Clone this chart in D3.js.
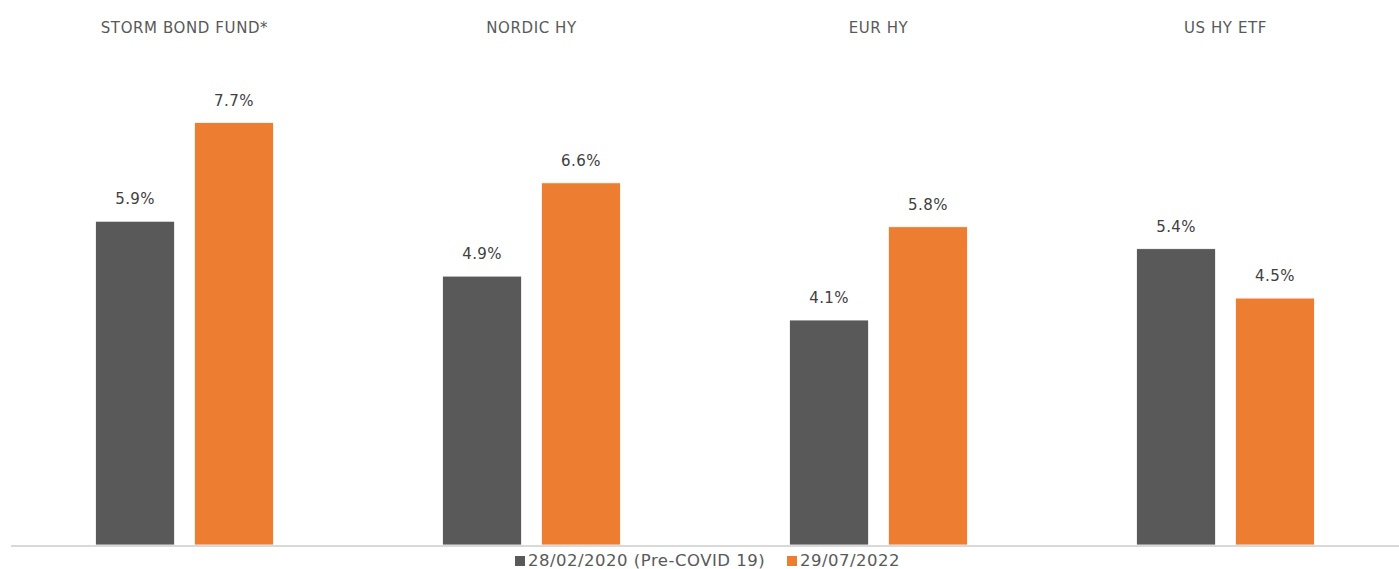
<!DOCTYPE html>
<html>
<head>
<meta charset="utf-8">
<script src="https://cdn.jsdelivr.net/npm/d3@7"></script>
<style>
  body { margin: 0; background: #fff; }
  svg { display: block; font-family: "DejaVu Sans", Verdana, sans-serif; }
</style>
</head>
<body>
<div id="chart"></div>
<script>
// categories and series
const categories = ["STORM BOND FUND*", "NORDIC HY", "EUR HY", "US HY ETF"];
const seriesNames = ["28/02/2020 (Pre-COVID 19)", "29/07/2022"];
const preCovid = [5.9, 4.9, 4.1, 5.4];
const latest = [7.7, 6.6, 5.8, 4.5];
const colors = ["#595959", "#ED7D31"];

const width = 1399, height = 569;
const margin = {top: 106, right: 0, bottom: 24, left: 11};
const innerH = height - margin.top - margin.bottom;

const svg = d3.select("#chart")
    .append("svg")
    .attr("width", width)
    .attr("height", height);

const g = svg.append("g")
    .attr("transform", "translate(" + margin.left + "," + margin.top + ")");

const data = categories.map(function(c, i) {
  return {cat: c, values: [preCovid[i], latest[i]]};
});

// x scales
const x0 = d3.scaleBand()
    .domain(categories)
    .range([0, width - margin.left - margin.right]);

const x1 = d3.scaleBand()
    .domain([0, 1])
    .range([0, 178])
    .paddingInner(0.2);

const y = d3.scaleLinear()
    .domain([0, 8])
    .range([innerH, 0]);

// category titles at top
g.selectAll(".title")
    .data(categories)
    .enter()
    .append("text")
    .attr("x", function(d) { return x0(d) + x0.bandwidth() / 2; })
    .attr("y", 28 - margin.top)
    .attr("dy", "0.35em")
    .attr("text-anchor", "middle")
    .attr("font-size", 15)
    .attr("letter-spacing", 0.6)
    .attr("fill", "#595959")
    .text(function(d) { return d; });

// bars
const groups = g.selectAll(".grp")
    .data(data)
    .enter()
    .append("g")
    .attr("transform", function(d) {
      return "translate(" + (x0(d.cat) + x0.bandwidth() / 2 - 89) + ",0)";
    });

groups.selectAll("rect")
    .data(function(d) { return d.values; })
    .enter()
    .append("rect")
    .attr("x", function(d, i) { return x1(i); })
    .attr("width", x1.bandwidth())
    .attr("y", function(d) { return y(d); })
    .attr("height", function(d) { return innerH - y(d); })
    .attr("fill", function(d, i) { return colors[i]; })
    .attr("stroke", "#ffffff")
    .attr("stroke-width", 0.8);

// value labels
groups.selectAll(".lbl")
    .data(function(d) { return d.values; })
    .enter()
    .append("text")
    .attr("x", function(d, i) { return x1(i) + x1.bandwidth() / 2; })
    .attr("y", function(d) { return y(d) - 22; })
    .attr("dy", "0.35em")
    .attr("text-anchor", "middle")
    .attr("font-size", 15)
    .attr("letter-spacing", 0.4)
    .attr("fill", "#404040")
    .text(function(d) { return d.toFixed(1) + "%"; });

// baseline axis
g.append("line")
    .attr("x1", 0)
    .attr("x2", width - margin.left)
    .attr("y1", y(0) + 1)
    .attr("y2", y(0) + 1)
    .attr("stroke", "#d9d9d9")
    .attr("stroke-width", 2);

// legend
const legendX = [515, 787];
const legend = svg.selectAll(".leg")
    .data(seriesNames)
    .enter()
    .append("g")
    .attr("transform", function(d, i) { return "translate(" + legendX[i] + ",556)"; });

legend.append("rect")
    .attr("width", 10)
    .attr("height", 10)
    .attr("fill", function(d, i) { return colors[i]; });

legend.append("text")
    .attr("x", 13)
    .attr("y", 10)
    .attr("font-size", 16.5)
    .attr("letter-spacing", 0.5)
    .attr("fill", "#595959")
    .text(function(d) { return d; });
</script>
</body>
</html>
